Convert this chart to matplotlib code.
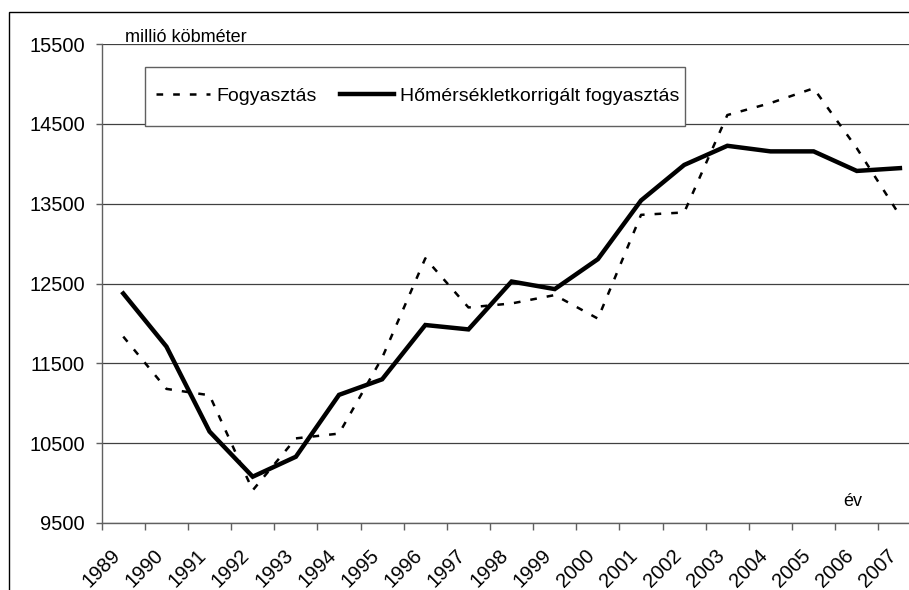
"""
Földgázfogyasztás és hőmérsékletkorrigált fogyasztás, 1989-2007
"""
import matplotlib
matplotlib.use('Agg')
import matplotlib.pyplot as plt
import matplotlib.transforms as mtransforms
from matplotlib.patches import Rectangle
import numpy as np

plt.rcParams['font.family'] = ['Liberation Sans', 'DejaVu Sans']
plt.rcParams['lines.scale_dashes'] = False

years = [str(y) for y in range(1989, 2008)]

fogyasztas = [11835, 11180, 11100, 9910, 10560, 10620, 11570, 12815, 12200,
              12250, 12355, 12060, 13360, 13390, 14610, 14760, 14945, 14195, 13350]
korrigalt = [12375, 11710, 10645, 10080, 10330, 11105, 11300, 11980, 11925,
             12525, 12430, 12805, 13540, 13985, 14225, 14155, 14155, 13910, 13945]

yticks = [9500, 10500, 11500, 12500, 13500, 14500, 15500]

W, H = 909, 590
fig = plt.figure(figsize=(W / 100, H / 100), dpi=100)

def fx(px):
    return px / W

def fy(py):
    return 1 - py / H

# plot area (last category runs past the picture edge, as in the original)
ax = fig.add_axes([fx(101.7), fy(523), fx(921.5 - 101.7), (523 - 44) / H])

x = np.arange(len(years)) + 0.5
ax.plot(x, fogyasztas, color='black', lw=1.8, dashes=(4.8, 7.2),
        label='Fogyasztás')
ax.plot(x, korrigalt, color='black', lw=3.2, solid_joinstyle='miter',
        label='Hőmérsékletkorrigált fogyasztás')

ax.set_xlim(0, len(years))
ax.set_ylim(9500, 15500)
ax.set_yticks(yticks)
ax.set_yticklabels([str(v) for v in yticks], fontsize=14.5)
ax.grid(axis='y', color='#404040', lw=0.9)
ax.set_axisbelow(True)

ax.set_xticks(x)
ax.set_xticklabels(years, fontsize=14.5, rotation=45, ha='right',
                   va='center', rotation_mode='anchor')
ax.set_xticks(np.arange(len(years) + 1), minor=True)
ax.tick_params(axis='x', which='major', length=0, pad=21)
ax.tick_params(axis='x', which='minor', length=5, color='#606060', width=1)
ax.tick_params(axis='y', length=4, color='#606060', width=1, pad=8)
offset = mtransforms.ScaledTranslation(-6 / 100, 0, fig.dpi_scale_trans)
for lab in ax.get_xticklabels():
    lab.set_transform(lab.get_transform() + offset)

for s in ['top', 'right']:
    ax.spines[s].set_visible(False)
for s in ['left', 'bottom']:
    ax.spines[s].set_color('#606060')
    ax.spines[s].set_linewidth(1)

fig.text(fx(125), fy(42), 'millió köbméter', fontsize=13, va='baseline')
fig.text(fx(843), fy(506), 'év', fontsize=13, va='baseline')

# legend box
fig.patches.append(Rectangle((fx(145), fy(126)), fx(685 - 145), (126 - 67) / H,
                             transform=fig.transFigure, fill=True,
                             facecolor='white', edgecolor='#606060', lw=1,
                             zorder=3))
leg = fig.legend(loc='center left', bbox_to_anchor=(fx(156), fy(96.5)),
                 ncol=2, frameon=False, fontsize=14, handlelength=2.8,
                 handletextpad=0.3, columnspacing=1.2, borderpad=0,
                 borderaxespad=0)
leg.set_zorder(4)

# outer chart frame
fig.patches.append(Rectangle((fx(9), fy(700)), fx(1000), (700 - 12) / H,
                             transform=fig.transFigure, fill=False,
                             edgecolor='black', lw=1, clip_on=False))

fig.savefig('out.png', dpi=100)
